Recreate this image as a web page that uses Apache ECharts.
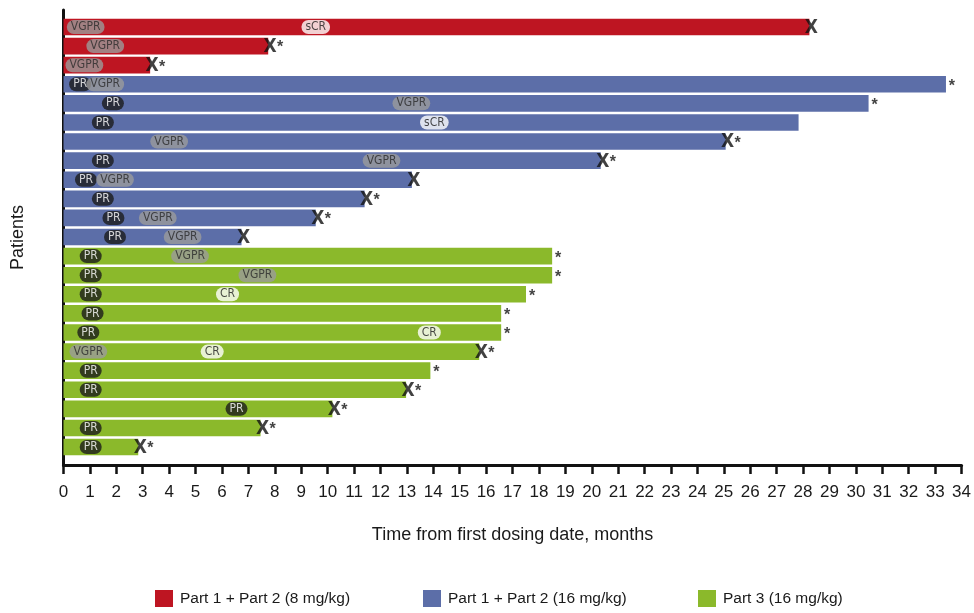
<!DOCTYPE html>
<html>
<head>
<meta charset="utf-8">
<script src="https://cdn.jsdelivr.net/npm/echarts@6/dist/echarts.min.js"></script>
<style>
html,body{margin:0;padding:0;background:#fff;}
#chart{width:974px;height:613px;}
</style>
</head>
<body>
<div id="chart"></div>
<script>
// ---- data (rows listed top to bottom) ----
const groupNames = ['Part 1 + Part 2 (8 mg/kg)', 'Part 1 + Part 2 (16 mg/kg)', 'Part 3 (16 mg/kg)'];
const rowGroup = [0,0,0, 1,1,1,1,1,1,1,1,1, 2,2,2,2,2,2,2,2,2,2,2];
const durations = [28.24, 7.75, 3.28, 33.41, 30.48, 27.83, 25.07, 20.34, 13.19, 11.40, 9.55, 6.74,
                   18.5, 18.5, 17.51, 16.57, 16.57, 15.74, 13.89, 12.97, 10.18, 7.46, 2.83];
const discontinued = [1,1,1, 0,0,0,1,1,1,1,1,1, 0,0,0,0,0,1,0,1,1,1,1];
const ongoing      = [0,1,1, 1,1,0,1,1,0,1,1,0, 1,1,1,1,1,1,1,1,1,1,1];
// responses: row index, time (months), type
const respRow  = [0,0, 1, 2, 3,3, 4,4, 5,5, 6, 7,7, 8,8, 9, 10,10, 11,11, 12,12, 13,13, 14,14, 15, 16,16, 17,17, 18, 19, 20, 21, 22];
const respTime = [0.84,9.55, 1.58, 0.79, 0.63,1.58, 1.87,13.17, 1.49,14.04, 4.0, 1.49,12.04, 0.85,1.95, 1.49, 1.89,3.57, 1.95,4.51,
                  1.03,4.79, 1.03,7.34, 1.03,6.21, 1.10, 0.94,13.85, 0.94,5.63, 1.03, 1.03, 6.55, 1.03, 1.03];
const respType = ['VGPR','sCR', 'VGPR', 'VGPR', 'PR','VGPR', 'PR','VGPR', 'PR','sCR', 'VGPR', 'PR','VGPR', 'PR','VGPR', 'PR', 'PR','VGPR', 'PR','VGPR',
                  'PR','VGPR', 'PR','VGPR', 'PR','CR', 'PR', 'PR','CR', 'VGPR','CR', 'PR', 'PR', 'PR', 'PR', 'PR'];
const xTicks = [0,34,1];

// ---- styles ----
const groupColors = ['#BE1522', '#5C6EA8', '#8BB92B'];
const pillStyle = {
  PR:   {bg:'#1c1c1c', fg:'#ffffff'},
  VGPR: {bg:'#9b9b9b', fg:'#2a2a2a'},
  CR:   {bg:'#ffffff', fg:'#1c1c1c'},
  sCR:  {bg:'#ffffff', fg:'#1c1c1c'}
};
const FONT = '"Liberation Sans", Arial, sans-serif';
const NARROW = '"Liberation Sans Narrow", "DejaVu Sans Condensed", "Liberation Sans", sans-serif';

const chart = echarts.init(document.getElementById('chart'), null, {renderer:'canvas'});

function barRender(params, api) {
  const row = api.value(1);
  const s = api.coord([0, row]);
  const e = api.coord([api.value(0), row]);
  const h = api.size([0, 1])[1] * 0.87;
  return {
    type: 'rect',
    shape: {x: s[0], y: s[1] - h/2, width: e[0] - s[0], height: h},
    style: {fill: api.visual('color')}
  };
}

const series = [];
groupNames.forEach((name, g) => {
  const data = [];
  durations.forEach((d, i) => { if (rowGroup[i] === g) data.push([d, i]); });
  series.push({
    name: name, type: 'custom', renderItem: barRender,
    itemStyle: {color: groupColors[g]},
    encode: {x: 0, y: 1}, data: data, z: 1, silent: true
  });
});

['PR','CR','sCR','VGPR'].forEach(t => {
  const data = [];
  respType.forEach((tt, i) => { if (tt === t) data.push([respTime[i], respRow[i]]); });
  series.push({
    type: 'scatter', symbolSize: 0, data: data, z: 5, silent: true,
    label: {
      show: true, position: 'inside', formatter: t,
      color: pillStyle[t].fg, backgroundColor: pillStyle[t].bg,
      fontFamily: NARROW, fontSize: 12, lineHeight: 13,
      padding: [1, 4, 0, 4], borderRadius: 7
    }
  });
});

const xData = [], starData = [];
durations.forEach((d, i) => {
  if (discontinued[i]) xData.push([d, i]);
  if (ongoing[i]) starData.push({value: [d, i], label: {offset: [discontinued[i] ? 12 : 6, 2]}});
});
series.push({
  type: 'scatter', symbolSize: 0, data: xData, z: 6, silent: true,
  label: {show: true, position: 'inside', formatter: 'X', offset: [2, 1],
          color: '#111', fontFamily: NARROW, fontWeight: 'bold', fontSize: 19}
});
series.push({
  type: 'scatter', symbolSize: 0, data: starData, z: 6, silent: true,
  label: {show: true, position: 'inside', formatter: '*',
          color: '#111', fontFamily: FONT, fontWeight: 'bold', fontSize: 16}
});

function legendAt(left, idx) {
  return {
    left: left, top: 590, orient: 'horizontal', selectedMode: false, padding: 0,
    data: [groupNames[idx]], icon: 'rect', itemWidth: 18, itemHeight: 17, itemGap: 0,
    textStyle: {fontFamily: FONT, fontSize: 15.5, color: '#1a1a1a', padding: [0,0,0,2]}
  };
}

chart.setOption({
  animation: false,
  backgroundColor: '#ffffff',
  grid: {left: 63.5, right: 10.7, top: 10, bottom: 148, containLabel: false},
  legend: [legendAt(155, 0), legendAt(423, 1), legendAt(698, 2)],
  xAxis: {
    type: 'value', min: xTicks[0], max: xTicks[1], interval: xTicks[2],
    name: 'Time from first dosing date, months', nameLocation: 'middle', nameGap: 61,
    nameTextStyle: {fontFamily: FONT, fontSize: 18, color: '#1a1a1a'},
    axisLine: {show: true, onZero: false, lineStyle: {color: '#111', width: 3}},
    axisTick: {show: true, length: 9, lineStyle: {color: '#111', width: 2.5}},
    axisLabel: {fontFamily: FONT, fontSize: 17, color: '#1a1a1a', margin: 19},
    splitLine: {show: false}
  },
  yAxis: {
    type: 'value', inverse: true, min: -0.89, max: 22.94,
    name: 'Patients', nameLocation: 'middle', nameGap: 36, nameRotate: 90,
    nameTextStyle: {fontFamily: FONT, fontSize: 18, color: '#1a1a1a'},
    axisLine: {show: true, onZero: false, lineStyle: {color: '#111', width: 3}},
    axisTick: {show: false}, axisLabel: {show: false}, splitLine: {show: false}
  },
  series: series
});
</script>
</body>
</html>
